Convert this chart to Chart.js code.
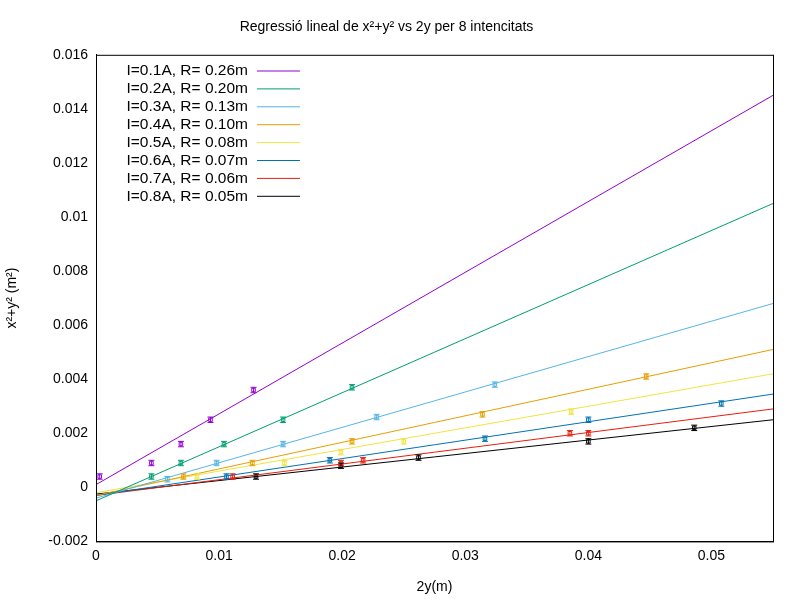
<!DOCTYPE html>
<html>
<head>
<meta charset="utf-8">
<script src="https://cdn.jsdelivr.net/npm/chart.js@4/dist/chart.umd.min.js"></script>
<style>
  body { margin:0; background:#fff; }
  #wrap { width:800px; height:600px; }
</style>
</head>
<body>
<div id="wrap"><canvas id="c"></canvas></div>
<script>
// series labels and colours
const labels = ['I=0.1A, R= 0.26m','I=0.2A, R= 0.20m','I=0.3A, R= 0.13m','I=0.4A, R= 0.10m',
                'I=0.5A, R= 0.08m','I=0.6A, R= 0.07m','I=0.7A, R= 0.06m','I=0.8A, R= 0.05m'];
const colors = ['#9400d3','#009e73','#56b4e9','#e69f00','#f0e442','#0072b2','#e51e10','#000000'];

// fitted line: value at x=0 and at x=0.055
const lineStart = [0.0001,-0.0005,-0.0004,-0.0003,-0.0002,-0.0003,-0.0003,-0.00025];
const lineEnd   = [0.0145, 0.0105, 0.0068, 0.0051, 0.0042, 0.00345, 0.0029, 0.0025];

// measured points (2y, x²+y²)
const xs = [
  [0.0003,0.0045,0.0069,0.0093,0.0128],
  [0.0045,0.0069,0.0104,0.0152,0.0208],
  [0.0058,0.0098,0.0152,0.0228,0.0324],
  [0.0071,0.0127,0.0208,0.0314,0.0447],
  [0.0082,0.0153,0.0199,0.0250,0.0386],
  [0.0106,0.0190,0.0316,0.0400,0.0508],
  [0.0111,0.0199,0.0217,0.0385,0.0400],
  [0.0130,0.0199,0.0262,0.0400,0.0486]
];
const ys = [
  [0.0004,0.0009,0.0016,0.0025,0.0036],
  [0.0004,0.0009,0.0016,0.0025,0.0037],
  [0.0003,0.0009,0.0016,0.0026,0.0038],
  [0.0004,0.0009,0.0017,0.0027,0.0041],
  [0.0004,0.0009,0.0013,0.0017,0.0028],
  [0.0004,0.0010,0.0018,0.0025,0.0031],
  [0.0004,0.0009,0.0010,0.0020,0.0020],
  [0.0004,0.0008,0.0011,0.0017,0.0022]
];
const yErr = 0.0001;

const datasets = [];
labels.forEach((l,i)=>{
  datasets.push({
    type:'line', label:l, data:[{x:0,y:lineStart[i]},{x:0.055,y:lineEnd[i]}],
    borderColor:colors[i], borderWidth:1, pointRadius:0, fill:false
  });
  datasets.push({
    type:'scatter', label:'pts'+i, data:xs[i].map((x,j)=>({x, y:ys[i][j]})),
    borderColor:colors[i], backgroundColor:'rgba(0,0,0,0)', pointStyle:'rect',
    pointRadius:2.5, borderWidth:1, errColor:colors[i]
  });
});

const gnuplotPlugin = {
  id:'gp',
  afterDatasetsDraw(chart){
    const ctx = chart.ctx, xs_ = chart.scales.x, ys_ = chart.scales.y, a = chart.chartArea;
    ctx.save();
    // error bars
    chart.data.datasets.forEach(ds=>{
      if (ds.type!=='scatter') return;
      ctx.strokeStyle = ds.errColor; ctx.lineWidth = 1;
      ds.data.forEach(p=>{
        const px = xs_.getPixelForValue(p.x);
        const t = ys_.getPixelForValue(p.y+yErr), b = ys_.getPixelForValue(p.y-yErr);
        ctx.beginPath();
        ctx.moveTo(px,t); ctx.lineTo(px,b);
        ctx.moveTo(px-3,t); ctx.lineTo(px+3,t);
        ctx.moveTo(px-3,b); ctx.lineTo(px+3,b);
        ctx.stroke();
      });
    });
    // border
    ctx.strokeStyle='#000'; ctx.lineWidth=1;
    ctx.strokeRect(a.left+0.5, a.top+0.5, a.right-a.left, a.bottom-a.top);
    // legend
    ctx.font = '15.5px "Liberation Sans", Arial, sans-serif';
    ctx.textAlign='right'; ctx.textBaseline='middle';
    labels.forEach((l,i)=>{
      const y = 71 + i*17.9;
      ctx.fillStyle='#000';
      ctx.fillText(l, 248, y);
      ctx.strokeStyle=colors[i];
      ctx.beginPath(); ctx.moveTo(257,y); ctx.lineTo(300,y); ctx.stroke();
    });
    ctx.restore();
  }
};

Chart.defaults.font.family = '"Liberation Sans", Arial, sans-serif';
Chart.defaults.color = '#000';

new Chart(document.getElementById('c'), {
  data:{ datasets },
  options:{
    responsive:true, maintainAspectRatio:false, animation:false,
    layout:{ padding:{ left:0, right:27, top:0, bottom:0 } },
    plugins:{
      legend:{ display:false },
      tooltip:{ enabled:false },
      title:{ display:true, text:'Regressió lineal de x²+y² vs 2y per 8 intencitats',
              font:{ size:14, weight:'normal' }, padding:{ top:19, bottom:19 } }
    },
    scales:{
      x:{ type:'linear', min:0, max:0.055,
          ticks:{ stepSize:0.01, font:{size:14}, padding:6,
                  callback:v=> v>0.0505 ? '' : String(+v.toFixed(3)) },
          grid:{ display:false, drawTicks:false },
          border:{ color:'#000' },
          title:{ display:true, text:'2y(m)', font:{size:14}, padding:{top:9} } },
      y:{ type:'linear', min:-0.002, max:0.016,
          ticks:{ stepSize:0.002, font:{size:14}, padding:8,
                  callback:v=>String(+v.toFixed(3)) },
          grid:{ display:false, drawTicks:false },
          border:{ color:'#000' },
          afterFit(s){ s.width = 96; },
          title:{ display:true, text:'x²+y² (m²)', font:{size:14}, padding:{bottom:6} } }
    }
  },
  plugins:[gnuplotPlugin]
});
</script>
</body>
</html>
